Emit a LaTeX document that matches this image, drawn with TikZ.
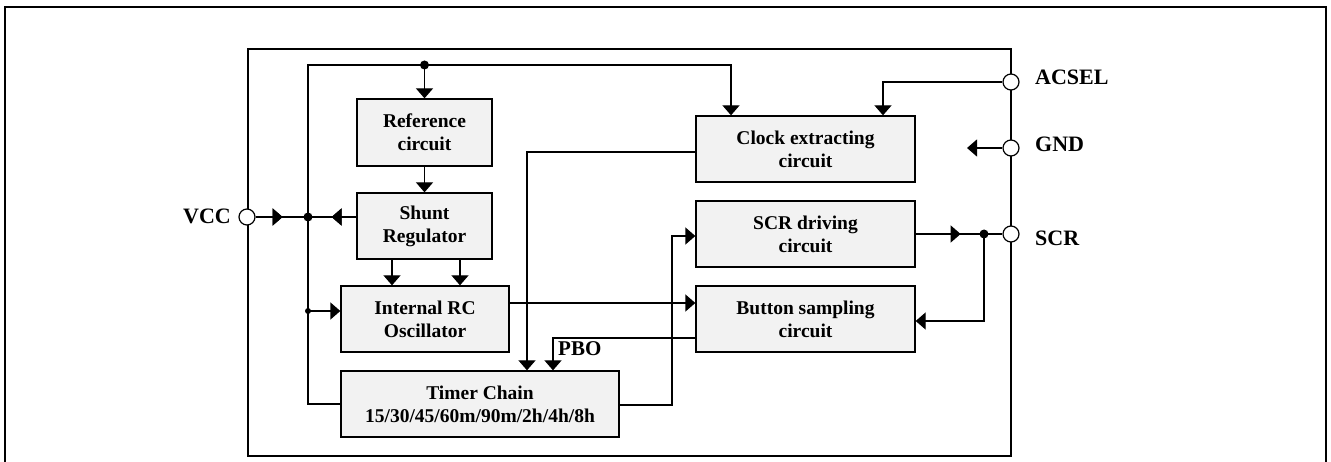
\documentclass[tikz,border=0pt]{standalone}
\usepackage{fontspec}
\setmainfont{Liberation Serif}
\usetikzlibrary{arrows.meta,decorations.markings,calc}
\begin{document}
\begin{tikzpicture}[x=1pt,y=-1pt,
  ln/.style={line width=1.3pt},
  tip/.style={-{Triangle[width=17pt,length=10pt]}},
  blk/.style={draw,line width=1.3pt,fill=black!5,align=center,inner sep=0pt,
     font=\fontsize{19.5}{23}\selectfont\bfseries},
  pinc/.style={circle,draw,fill=white,minimum size=16pt,inner sep=0pt,line width=1.2pt},
  pinlab/.style={anchor=west,inner sep=0pt,font=\fontsize{22}{24}\selectfont\bfseries},
  midarr/.style={postaction={decorate},decoration={markings,
     mark=at position #1 with {\arrow{Triangle[width=17pt,length=10pt]}}}},
  midarrrev/.style={postaction={decorate},decoration={markings,
     mark=at position #1 with {\arrowreversed{Triangle[width=17pt,length=10pt]}}}},
  dot/.style={circle,fill,inner sep=0pt,minimum size=#1}
]
\useasboundingbox (0,0) rectangle (1331,462);
% outer frame
\draw[line width=2.5pt] (5,475) -- (5,7) -- (1326,7) -- (1326,475);
% chip outline
\node[draw,line width=1.3pt,minimum width=763pt,minimum height=407pt,inner sep=0pt] (chip) at (629.5,252.5) {};

% blocks
\node[blk,minimum width=135pt,minimum height=67pt] (ref) at (424.5,132.5) {Reference\\circuit};
\node[blk,minimum width=135pt,minimum height=66pt] (shunt) at (424.5,226) {Shunt\\Regulator};
\node[blk,minimum width=168pt,minimum height=66pt] (rc) at (425,319) {Internal RC\\Oscillator};
\node[blk,minimum width=278pt,minimum height=66pt] (timer) at (480,404) {Timer Chain\\15/30/45/60m/90m/2h/4h/8h};
\node[blk,minimum width=219pt,minimum height=66pt] (clock) at (805.5,149) {Clock extracting\\circuit};
\node[blk,minimum width=219pt,minimum height=66pt] (scrd) at (805.5,234) {SCR driving\\circuit};
\node[blk,minimum width=219pt,minimum height=66pt] (btn) at (805.5,319) {Button sampling\\circuit};

% pins
\node[pinc] (vcc) at (247,217) {};
\node[pinc] (acsel) at (1011,82) {};
\node[pinc] (gnd) at (1011,148) {};
\node[pinc] (scr) at (1011,234) {};
\node[pinlab,anchor=east] (lvcc) at (231,216) {VCC};
\node[pinlab] (lacsel) at (1035,77) {ACSEL};
\node[pinlab] (lgnd) at (1035,144) {GND};
\node[pinlab] (lscr) at (1035,238) {SCR};
\node[pinlab,font=\fontsize{21}{24}\selectfont\bfseries] (lpbo) at (558,349) {PBO};

% helper coordinates
\coordinate (tl) at (308,65);
\coordinate (dtop) at (424.5,65);
\coordinate (dv) at (308,217);
\coordinate (drc) at (308,311);
\coordinate (ck) at (731,65);
\coordinate (s1) at (392,259);
\coordinate (s2) at (460,259);
\coordinate (h303) at (0,303);
\coordinate (h311) at (0,311);
\coordinate (h217) at (0,217);
\coordinate (ckl) at (527,152);
\coordinate (pb) at (553,338);
\coordinate (tr) at (672,405);
\coordinate (tu) at (672,236);
\coordinate (ac) at (883,82);
\coordinate (gt) at (967,148);
\coordinate (ds) at (984,234);
\coordinate (bs) at (984,321);

% supply rail
\draw[ln,tip] (timer.west) -| (tl) -- (ck) -- (ck |- clock.north);
\draw[ln,tip] (dtop) -- (ref.north);
\draw[ln,midarr=27pt,midarrrev=76pt] (vcc.east) -- (shunt.west |- h217);
\draw[ln,tip] (drc) -- (rc.west |- h311);
\draw[ln,tip] (ref.south) -- (shunt.north);
\draw[ln,tip] (s1) -- (s1 |- rc.north);
\draw[ln,tip] (s2) -- (s2 |- rc.north);
\draw[ln,tip] (rc.east |- h303) -- (btn.west |- h303);
\draw[ln,tip] (clock.west |- ckl) -- (ckl) -- (ckl |- timer.north);
\draw[ln,tip] (btn.west |- pb) -- (pb) -- (pb |- timer.north);
\draw[ln,tip] (timer.east |- tr) -- (tr) -- (tu) -- (scrd.west |- tu);
\draw[ln,tip] (acsel.west) -- (ac) -- (ac |- clock.north);
\draw[ln,tip] (gnd.west) -- (gt);
\draw[ln,midarr=45pt] (scrd.east |- ds) -- (scr.west);
\draw[ln,tip] (ds) -- (bs) -- (btn.east |- bs);

% junction dots
\node[dot=9pt] (jd1) at (dtop) {};
\node[dot=9pt] (jd2) at (dv) {};
\node[dot=6pt] (jd3) at (drc) {};
\node[dot=9pt] (jd4) at (ds) {};
\end{tikzpicture}
\end{document}
